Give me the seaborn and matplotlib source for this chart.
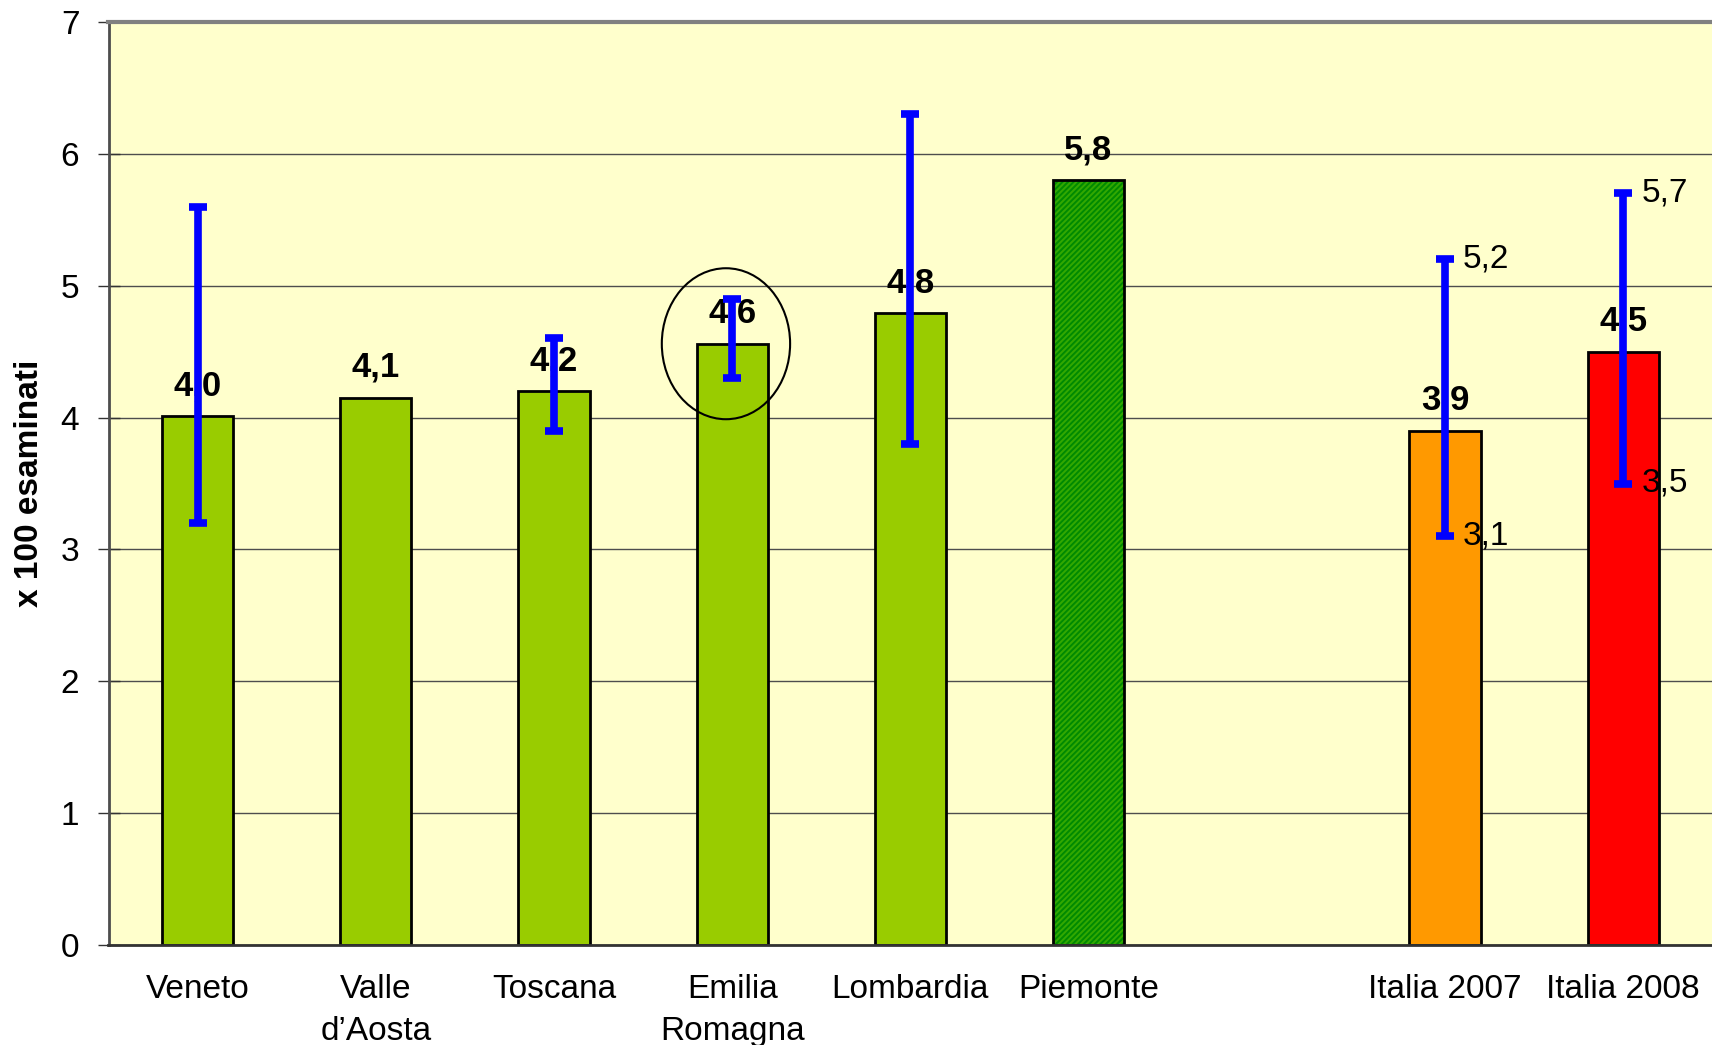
import numpy as np
import pandas as pd
import matplotlib.pyplot as plt
import matplotlib.patches as mpatches
import seaborn as sns

categories = ['Veneto', 'Valle\nd\u2019Aosta', 'Toscana', 'Emilia\nRomagna', 'Lombardia',
              'Piemonte', '', 'Italia 2007', 'Italia 2008']
values = [4.01, 4.15, 4.20, 4.56, 4.79, 5.80, np.nan, 3.90, 4.50]
value_labels = ['4,0', '4,1', '4,2', '4,6', '4,8', '5,8', '', '3,9', '4,5']
ci_low = [3.2, np.nan, 3.9, 4.3, 3.8, np.nan, np.nan, 3.1, 3.5]
ci_high = [5.6, np.nan, 4.6, 4.9, 6.3, np.nan, np.nan, 5.2, 5.7]
ci_labelled = ['Italia 2007', 'Italia 2008']
bar_colors = ['#99CC00', '#99CC00', '#99CC00', '#99CC00', '#99CC00',
              '#33A800', '#FFFFFF', '#FF9900', '#FF0000']

df = pd.DataFrame({'regione': categories, 'valore': values})

sns.set_style('white')
plt.rcParams['font.family'] = ['Liberation Sans', 'DejaVu Sans']
plt.rcParams['hatch.linewidth'] = 1.4
plt.rcParams['text.color'] = 'black'
plt.rcParams['axes.labelcolor'] = 'black'
plt.rcParams['xtick.color'] = 'black'
plt.rcParams['ytick.color'] = 'black'

fig = plt.figure(figsize=(17.12, 10.45), dpi=100)
ax = fig.add_axes([108.5 / 1712, 1 - 945 / 1045, 1603.8 / 1712, 923 / 1045])
ax.set_facecolor('#FFFFCC')

sns.barplot(data=df, x='regione', y='valore', order=categories, hue='regione',
            hue_order=categories, palette=bar_colors, legend=False, width=0.40,
            saturation=1, edgecolor='black', linewidth=2, ax=ax, zorder=2)

# Piemonte bar is hatched
for p in ax.patches:
    if abs(p.get_height() - values[5]) < 1e-9:
        p.set_hatch('//////')
        p.set_edgecolor('#008A00')
        p.set_linewidth(0)
        ax.add_patch(mpatches.Rectangle((p.get_x(), p.get_y()), p.get_width(), p.get_height(),
                                        fill=False, edgecolor='black', linewidth=2, zorder=2.5))

x = np.arange(len(categories))
lo = np.array(ci_low)
hi = np.array(ci_high)
mid = (lo + hi) / 2
ax.errorbar(x, mid, yerr=[mid - lo, hi - mid], fmt='none', ecolor='#0000FF',
            elinewidth=5.5, capsize=6.5, capthick=5.5, zorder=5)

for i, lab in enumerate(value_labels):
    if lab:
        ax.annotate(lab, (i, values[i]), xytext=(0, 15), textcoords='offset points',
                    ha='center', va='baseline', fontsize=25, fontweight='bold', zorder=4)

for i, cat in enumerate(categories):
    if cat in ci_labelled:
        for v in (ci_low[i], ci_high[i]):
            ax.annotate(f'{v:.1f}'.replace('.', ','), (i, v), xytext=(13, 0),
                        textcoords='offset points', ha='left', va='center', fontsize=24)

# circle around Emilia Romagna
ax.add_patch(mpatches.Ellipse((3 - 0.035, values[3]), 0.72, 1.145, fill=False,
                              edgecolor='black', linewidth=1.5, zorder=6))

ax.set_xlim(-0.5, len(categories) - 0.5)
ax.set_ylim(0, 7)
ax.set_yticks(range(0, 8))
ax.yaxis.grid(True, color='#4D4D4D', linewidth=1)
ax.xaxis.grid(False)
ax.set_axisbelow(True)

ax.set_xticks(x)
ax.set_xticklabels(categories)
for t in ax.get_xticklabels():
    t.set_linespacing(1.45)
ax.set_xticks(np.arange(len(categories) + 1) - 0.5, minor=True)
ax.tick_params(axis='x', which='major', length=0, pad=21, labelsize=24)
ax.tick_params(axis='x', which='minor', length=16, width=1, direction='inout', color='#4D4D4D')
ax.tick_params(axis='y', length=16, width=1, direction='inout', pad=13, labelsize=24, color='#333333', left=True)

ax.set_xlabel('')
ax.set_ylabel('x 100 esaminati', fontsize=24, fontweight='bold', va='center')
ax.yaxis.set_label_coords(-0.049, 0.5)

ax.spines['top'].set_color('#808080')
ax.spines['top'].set_linewidth(3)
ax.spines['left'].set_color('#4D4D4D')
ax.spines['left'].set_linewidth(2)
ax.spines['bottom'].set_color('#333333')
ax.spines['bottom'].set_linewidth(2)
ax.spines['right'].set_visible(False)

plt.savefig('out.png', dpi=100)
